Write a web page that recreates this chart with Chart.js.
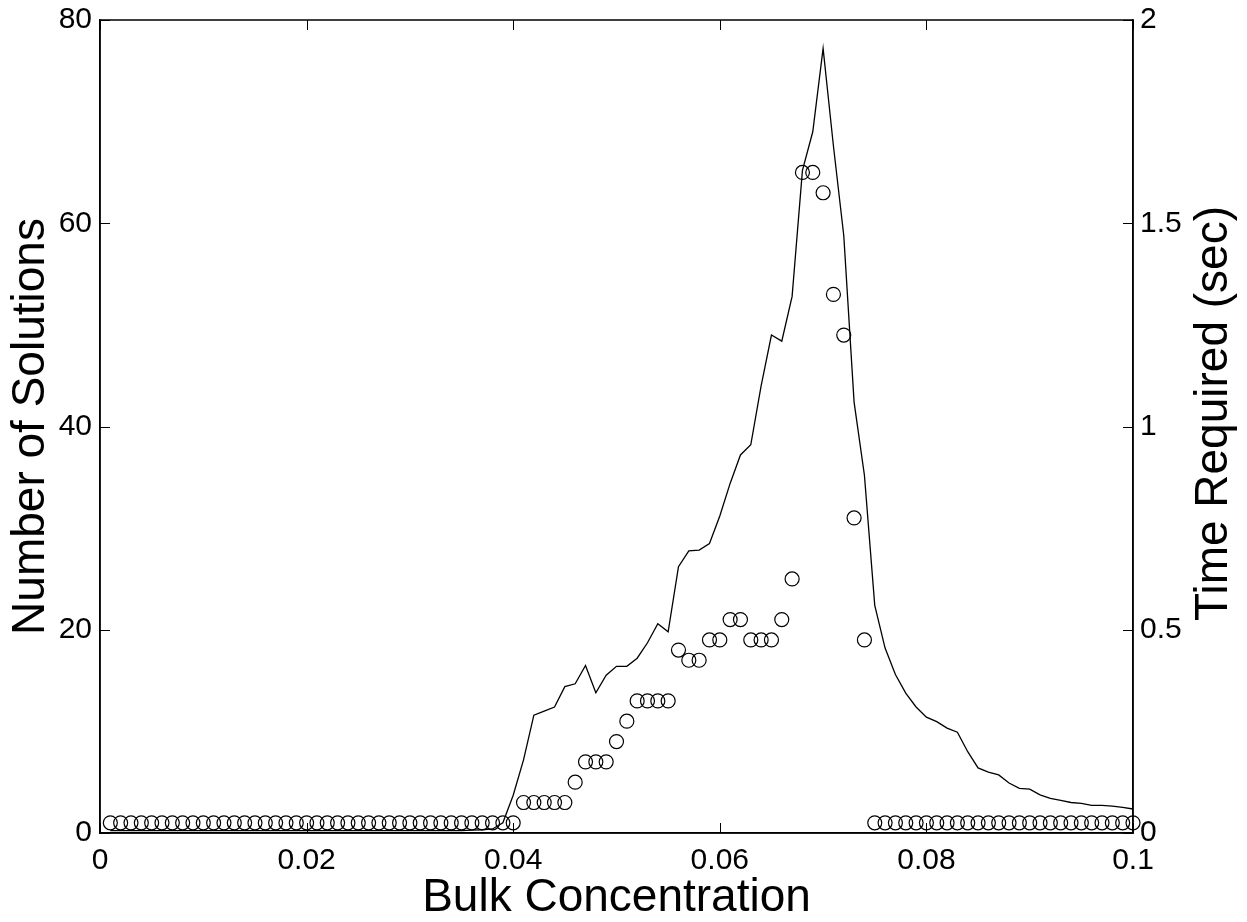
<!DOCTYPE html>
<html>
<head>
<meta charset="utf-8">
<script src="https://cdn.jsdelivr.net/npm/chart.js@4.4.1/dist/chart.umd.min.js"></script>
<style>
  html, body { margin: 0; padding: 0; background: #fff; }
  canvas { display: block; }
</style>
</head>
<body>
<canvas id="c" width="1247" height="922"></canvas>
<script>
// Bulk concentration (x) for every sample
const concentration = [
  0.001,0.002,0.003,0.004,0.005,0.006,0.007,0.008,0.009,0.010,
  0.011,0.012,0.013,0.014,0.015,0.016,0.017,0.018,0.019,0.020,
  0.021,0.022,0.023,0.024,0.025,0.026,0.027,0.028,0.029,0.030,
  0.031,0.032,0.033,0.034,0.035,0.036,0.037,0.038,0.039,0.040,
  0.041,0.042,0.043,0.044,0.045,0.046,0.047,0.048,0.049,0.050,
  0.051,0.052,0.053,0.054,0.055,0.056,0.057,0.058,0.059,0.060,
  0.061,0.062,0.063,0.064,0.065,0.066,0.067,0.068,0.069,0.070,
  0.071,0.072,0.073,0.074,0.075,0.076,0.077,0.078,0.079,0.080,
  0.081,0.082,0.083,0.084,0.085,0.086,0.087,0.088,0.089,0.090,
  0.091,0.092,0.093,0.094,0.095,0.096,0.097,0.098,0.099,0.100
];
// Number of solutions (circles, left axis)
const numSolutions = [
  1,1,1,1,1,1,1,1,1,1,
  1,1,1,1,1,1,1,1,1,1,
  1,1,1,1,1,1,1,1,1,1,
  1,1,1,1,1,1,1,1,1,1,
  3,3,3,3,3,5,7,7,7,9,
  11,13,13,13,13,18,17,17,19,19,
  21,21,19,19,19,21,25,65,65,63,
  53,49,31,19,1,1,1,1,1,1,
  1,1,1,1,1,1,1,1,1,1,
  1,1,1,1,1,1,1,1,1,1
];
// Time required in seconds (line, right axis)
const timeRequired = [
  0.006,0.006,0.006,0.006,0.006,0.006,0.006,0.006,0.006,0.006,
  0.006,0.006,0.006,0.006,0.006,0.006,0.006,0.006,0.006,0.006,
  0.006,0.006,0.006,0.006,0.006,0.006,0.006,0.006,0.006,0.006,
  0.006,0.006,0.006,0.006,0.006,0.007,0.008,0.010,0.025,0.093,
  0.180,0.290,0.300,0.310,0.360,0.367,0.412,0.345,0.388,0.410,
  0.410,0.430,0.468,0.515,0.495,0.655,0.694,0.696,0.712,0.780,
  0.860,0.930,0.955,1.100,1.225,1.210,1.320,1.630,1.725,1.930,
  1.690,1.470,1.060,0.880,0.560,0.455,0.390,0.344,0.310,0.285,
  0.274,0.258,0.248,0.200,0.160,0.150,0.143,0.123,0.110,0.108,
  0.094,0.085,0.080,0.075,0.073,0.068,0.068,0.066,0.063,0.059
];
// Tick values and labels
const xTickValues = [0, 0.02, 0.04, 0.06, 0.08, 0.1];
const xTickLabels = ['0', '0.02', '0.04', '0.06', '0.08', '0.1'];
const yLeftTickValues = [0, 20, 40, 60, 80];
const yLeftTickLabels = ['0', '20', '40', '60', '80'];
const yRightTickValues = [0, 0.5, 1, 1.5, 2];
const yRightTickLabels = ['0', '0.5', '1', '1.5', '2'];

const xTitle = 'Bulk Concentration';
const yLeftTitle = 'Number of Solutions';
const yRightTitle = 'Time Required (sec)';

const FONT = "'Liberation Sans', Arial, Helvetica, sans-serif";

function fixedTicks(values) {
  return function (scale) {
    scale.ticks = values.map(v => ({ value: v }));
  };
}
function labelFrom(values, labels) {
  return function (v) {
    for (let i = 0; i < values.length; i++) {
      if (Math.abs(values[i] - v) < 1e-9) return labels[i];
    }
    return '';
  };
}
function fitWidth(w) {
  return function (s) { s.width = w; s.paddingTop = 0; s.paddingBottom = 0; };
}

const frame = {
  id: 'frame',
  afterDatasetsDraw(chart) {
    const ctx = chart.ctx, a = chart.chartArea;
    const sx = chart.scales.x, sl = chart.scales.y, sr = chart.scales.y2;
    const L = 10;
    ctx.save();
    ctx.strokeStyle = '#000';
    ctx.lineWidth = 1;
    ctx.beginPath();
    sx.ticks.forEach(t => {
      const p = Math.round(sx.getPixelForValue(t.value)) + 0.5;
      ctx.moveTo(p, a.bottom); ctx.lineTo(p, a.bottom - L);
      ctx.moveTo(p, a.top); ctx.lineTo(p, a.top + L);
    });
    sl.ticks.forEach(t => {
      const p = Math.round(sl.getPixelForValue(t.value)) + 0.5;
      ctx.moveTo(a.left, p); ctx.lineTo(a.left + L, p);
    });
    sr.ticks.forEach(t => {
      const p = Math.round(sr.getPixelForValue(t.value)) + 0.5;
      ctx.moveTo(a.right, p); ctx.lineTo(a.right - L, p);
    });
    ctx.stroke();
    ctx.lineWidth = 1.5;
    ctx.beginPath();
    ctx.rect(a.left, a.top, a.right - a.left, a.bottom - a.top);
    ctx.stroke();
    // right axis title, reading upward
    ctx.fillStyle = '#000';
    ctx.font = '46px ' + FONT;
    ctx.textAlign = 'center';
    ctx.textBaseline = 'middle';
    ctx.translate(1214, (a.top + a.bottom) / 2 - 13);
    ctx.rotate(-Math.PI / 2);
    ctx.fillText(yRightTitle, 0, 0);
    ctx.restore();
  }
};

new Chart(document.getElementById('c'), {
  type: 'scatter',
  data: {
    datasets: [
      {
        label: yLeftTitle,
        data: concentration.map((x, i) => ({ x: x, y: numSolutions[i] })),
        yAxisID: 'y',
        showLine: false,
        pointStyle: 'circle',
        pointRadius: 7,
        pointHoverRadius: 7,
        pointBorderWidth: 1.2,
        borderColor: '#000',
        backgroundColor: 'rgba(0,0,0,0)',
        pointBackgroundColor: 'rgba(0,0,0,0)',
        clip: false
      },
      {
        label: yRightTitle,
        data: concentration.map((x, i) => ({ x: x, y: timeRequired[i] })),
        yAxisID: 'y2',
        showLine: true,
        pointRadius: 0,
        borderColor: '#000',
        borderWidth: 1.3,
        tension: 0,
        clip: false
      }
    ]
  },
  options: {
    responsive: false,
    animation: false,
    devicePixelRatio: 1,
    layout: { padding: { top: 20, left: 0, right: 0, bottom: 0 } },
    plugins: { legend: { display: false }, tooltip: { enabled: false } },
    scales: {
      x: {
        type: 'linear',
        position: 'bottom',
        min: 0, max: 0.1,
        afterBuildTicks: fixedTicks(xTickValues),
        afterFit(s) { s.height = 89; s.paddingLeft = 0; s.paddingRight = 0; },
        grid: { display: false, drawTicks: false },
        border: { display: true, color: '#000', width: 1.5 },
        ticks: {
          color: '#000',
          font: { family: FONT, size: 30 },
          padding: 10,
          maxRotation: 0,
          autoSkip: false,
          callback: labelFrom(xTickValues, xTickLabels)
        },
        title: {
          display: true,
          text: xTitle,
          color: '#000',
          font: { family: FONT, size: 46, lineHeight: 1 },
          padding: { top: 0, bottom: 1 }
        }
      },
      y: {
        type: 'linear',
        position: 'left',
        min: 0, max: 80,
        afterBuildTicks: fixedTicks(yLeftTickValues),
        afterFit: fitWidth(100),
        grid: { display: false, drawTicks: false },
        border: { display: true, color: '#000', width: 1.5 },
        ticks: {
          color: '#000',
          font: { family: FONT, size: 30 },
          padding: 8,
          autoSkip: false,
          callback: labelFrom(yLeftTickValues, yLeftTickLabels)
        },
        title: {
          display: true,
          text: yLeftTitle,
          color: '#000',
          font: { family: FONT, size: 46, lineHeight: 1 },
          padding: { top: 8, bottom: 0 }
        }
      },
      y2: {
        type: 'linear',
        position: 'right',
        min: 0, max: 2,
        afterBuildTicks: fixedTicks(yRightTickValues),
        afterFit: fitWidth(114),
        grid: { display: false, drawTicks: false },
        border: { display: true, color: '#000', width: 1.5 },
        ticks: {
          color: '#000',
          font: { family: FONT, size: 30 },
          padding: 7,
          autoSkip: false,
          callback: labelFrom(yRightTickValues, yRightTickLabels)
        }
      }
    }
  },
  plugins: [frame]
});
</script>
</body>
</html>
